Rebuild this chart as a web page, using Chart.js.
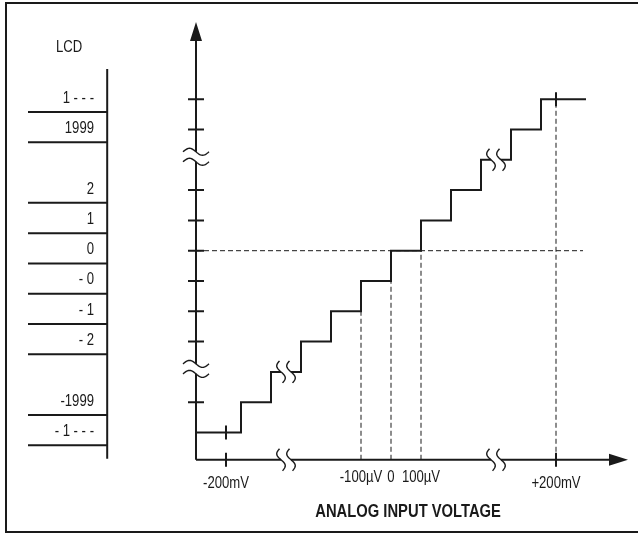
<!DOCTYPE html>
<html>
<head>
<meta charset="utf-8">
<script src="https://cdn.jsdelivr.net/npm/chart.js@4.4.0/dist/chart.umd.min.js"></script>
<style>
html, body { margin: 0; padding: 0; background: #fff; }
</style>
</head>
<body>
<canvas id="transfer" width="638" height="535"></canvas>
<script>
// x = input in LSB steps (100uV), y = display code level
const thresholds = [-5, -4, -3, -2, -1, 0, 1, 2, 3, 4, 5];
const levels = [-6, -5, -4, -3, -2, -1, 0, 1, 2, 3, 4, 5];
const lcdCodes = ['- 1 - - -', '-1999', '', '- 2', '- 1', '- 0', '0', '1', '2', '', '1999', '1 - - -'];
const brokenLevels = [-4, 3];
const inputRange = [-6.5, 6.5];
const xTickPos = [-5.5, -1, 0, 1, 5.5];
const xTickLabels = ['-200mV', '-100µV', '0', '100µV', '+200mV'];
const fullScale = [-5.5, 5.5];

// layout (axis units)
const axisLevel = -6.9;
const lcdLine = -9.46;
const ink = '#1a1a1a';

const stairPts = [{x: inputRange[0], y: levels[0]}];
thresholds.forEach((t, i) => stairPts.push({x: t, y: levels[i + 1]}));
stairPts.push({x: inputRange[1], y: levels[levels.length - 1]});

// dashed guide lines
const levelAt = x => {
    let lv = levels[0];
    thresholds.forEach((t, i) => { if (x >= t) lv = levels[i + 1]; });
    return lv;
};
const guides = [[{x: inputRange[0], y: 0}, {x: 6.4, y: 0}]];
xTickPos.forEach(p => {
    if (p === fullScale[0]) return;
    const top = p === 0 ? 0 : levelAt(p);
    guides.push([{x: p, y: axisLevel}, {x: p, y: top}]);
});

function txt(ctx, s, x, y, size, align, bold) {
    ctx.save();
    ctx.translate(x, y);
    ctx.scale(0.82, 1);
    ctx.font = (bold ? 'bold ' : '') + size + 'px "Liberation Sans", Arial, sans-serif';
    ctx.textAlign = align;
    ctx.textBaseline = 'middle';
    ctx.fillStyle = ink;
    ctx.fillText(s, 0, 0);
    ctx.restore();
}

function tilde(ctx, x, y, w, a) {
    ctx.beginPath();
    for (let i = 0; i <= 24; i++) {
        const t = i / 24;
        const xx = x - w / 2 + w * t, yy = y - a * Math.sin(2 * Math.PI * t);
        i ? ctx.lineTo(xx, yy) : ctx.moveTo(xx, yy);
    }
    ctx.stroke();
}

function sCurve(ctx, x, y, h, a) {
    ctx.beginPath();
    for (let i = 0; i <= 24; i++) {
        const t = i / 24;
        const xx = x - a * Math.sin(2 * Math.PI * t) + (t - 0.5) * 3, yy = y - h / 2 + h * t;
        i ? ctx.lineTo(xx, yy) : ctx.moveTo(xx, yy);
    }
    ctx.stroke();
}

const decor = {
    id: 'decor',
    beforeDatasetsDraw(chart) {
        const ctx = chart.ctx;
        const px = v => chart.scales.x.getPixelForValue(v);
        const py = v => chart.scales.y.getPixelForValue(v);
        ctx.save();
        ctx.strokeStyle = ink;
        ctx.fillStyle = ink;
        // frame
        ctx.lineWidth = 2;
        ctx.strokeRect(6, 3, 640, 529);
        // axes
        const ox = px(inputRange[0]), oy = py(axisLevel);
        const topY = py(7.55), rightX = px(7.9);
        ctx.beginPath();
        ctx.moveTo(ox, oy); ctx.lineTo(ox, topY + 14);
        ctx.moveTo(ox, oy); ctx.lineTo(rightX - 14, oy);
        ctx.stroke();
        ctx.beginPath();
        ctx.moveTo(ox, topY); ctx.lineTo(ox - 6, topY + 19); ctx.lineTo(ox + 6, topY + 19); ctx.closePath();
        ctx.moveTo(rightX, oy); ctx.lineTo(rightX - 19, oy - 6); ctx.lineTo(rightX - 19, oy + 6); ctx.closePath();
        ctx.fill();
        // y ticks on every shown level
        ctx.beginPath();
        levels.slice(1).forEach(l => {
            if (brokenLevels.includes(l)) return;
            ctx.moveTo(ox - 8, py(l)); ctx.lineTo(ox + 8, py(l));
        });
        // full scale ticks
        fullScale.forEach((f, i) => {
            ctx.moveTo(px(f), oy - 7); ctx.lineTo(px(f), oy + 7);
            const l = i ? levels[levels.length - 1] : levels[0];
            ctx.moveTo(px(f), py(l) - 7); ctx.lineTo(px(f), py(l) + 7);
        });
        ctx.stroke();
        // lcd table
        ctx.beginPath();
        ctx.moveTo(px(lcdLine), py(6)); ctx.lineTo(px(lcdLine), py(axisLevel) - 1);
        levels.forEach((l, i) => {
            if (!lcdCodes[i]) return;
            ctx.moveTo(px(-12.1), py(l - 0.42)); ctx.lineTo(px(lcdLine), py(l - 0.42));
        });
        ctx.stroke();
        ctx.restore();
    },
    afterDatasetsDraw(chart) {
        const ctx = chart.ctx;
        const px = v => chart.scales.x.getPixelForValue(v);
        const py = v => chart.scales.y.getPixelForValue(v);
        const ox = px(inputRange[0]), oy = py(axisLevel);
        ctx.save();
        ctx.strokeStyle = ink;
        ctx.lineWidth = 1.4;
        // breaks on the y axis
        brokenLevels.forEach(l => {
            const y = py(l) - 3;
            ctx.fillStyle = '#fff';
            ctx.fillRect(ox - 13, y - 5, 26, 10);
            tilde(ctx, ox, y - 5, 26, 3.5);
            tilde(ctx, ox, y + 5, 26, 3.5);
        });
        // breaks on the staircase and x axis
        brokenLevels.forEach(l => {
            const i = levels.indexOf(l);
            const mid = (thresholds[i - 1] + thresholds[i]) / 2;
            [py(l), oy].forEach(y => {
                const x = px(mid);
                ctx.fillStyle = '#fff';
                ctx.fillRect(x - 5, y - 3, 10, 6);
                sCurve(ctx, x - 5, y, 22, 3.5);
                sCurve(ctx, x + 5, y, 22, 3.5);
            });
        });
        // lcd labels
        txt(ctx, 'LCD', px(-10.73), py(6.69), 16, 'center');
        levels.forEach((l, i) => {
            if (lcdCodes[i]) txt(ctx, lcdCodes[i], px(-9.9), py(l) - 1, 16, 'right');
        });
        // x tick labels
        xTickPos.forEach((p, i) => {
            const far = fullScale.includes(p);
            txt(ctx, xTickLabels[i], px(p), oy + (far ? 23.5 : 17.5), 16, 'center');
        });
        txt(ctx, 'ANALOG INPUT VOLTAGE', px(0.57), oy + 52.5, 18, 'center', true);
        ctx.restore();
    }
};

const ctx = document.getElementById('transfer').getContext('2d');
const datasets = [{
    data: stairPts,
    stepped: true,
    borderColor: ink,
    borderWidth: 2,
    pointRadius: 0,
    fill: false
}];
guides.forEach(g => datasets.push({
    data: g,
    borderColor: ink,
    borderWidth: 1,
    borderDash: [5, 3],
    pointRadius: 0,
    fill: false
}));

new Chart(ctx, {
    type: 'line',
    data: {datasets: datasets},
    options: {
        responsive: false,
        animation: false,
        layout: {padding: 0},
        scales: {
            x: {type: 'linear', display: false, min: -391 / 30, max: 247 / 30},
            y: {type: 'linear', display: false, min: -284.3 / 30.3, max: 250.7 / 30.3}
        },
        plugins: {legend: {display: false}, tooltip: {enabled: false}},
        elements: {line: {tension: 0}},
        clip: false
    },
    plugins: [decor]
});
</script>
</body>
</html>
